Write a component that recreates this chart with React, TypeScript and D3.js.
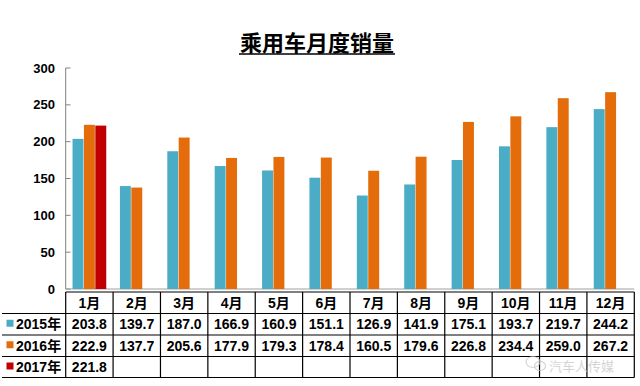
import React from "react";
import * as d3 from "d3";

const months = ["1月", "2月", "3月", "4月", "5月", "6月", "7月", "8月", "9月", "10月", "11月", "12月"];
const seriesNames = ["2015年", "2016年", "2017年"];
const sales2015 = [203.8, 139.7, 187.0, 166.9, 160.9, 151.1, 126.9, 141.9, 175.1, 193.7, 219.7, 244.2];
const sales2016 = [222.9, 137.7, 205.6, 177.9, 179.3, 178.4, 160.5, 179.6, 226.8, 234.4, 259.0, 267.2];
const sales2017 = [221.8, null, null, null, null, null, null, null, null, null, null, null];
const yTicks = [0, 50, 100, 150, 200, 250, 300];
const colors = ["#4BACC6", "#E46C0A", "#C00000"];

const W = 640;
const H = 386;
const FONT = "Arial, 'Liberation Sans', 'Noto Sans CJK SC', sans-serif";

export default function App() {
  const allSeries = [sales2015, sales2016, sales2017];

  //scales
  const x0 = d3.scaleBand<string>().domain(months).range([65.7, 634.3]).padding(0);
  const x1 = d3
    .scaleBand<string>()
    .domain(seriesNames)
    .range([0, x0.bandwidth()])
    .paddingInner(0.04)
    .paddingOuter(0.6);
  const y = d3.scaleLinear().domain([0, 300]).range([289, 68]);

  //table geometry
  const rowLines = [292, 313.5, 335, 356.5, 377.5];
  const tableLeft = 2;
  const tableRight = 634.3;
  const colEdges = months.map((m) => x0(m) as number).concat([tableRight]);
  const rowMid = (i: number) => (rowLines[i] + rowLines[i + 1]) / 2 + 5;

  const fmt = d3.format(".1f");

  return (
    <svg
      width={W}
      height={H}
      style={{ position: "absolute", left: 0, top: 0, background: "#fff" }}
      fontFamily={FONT}
    >
      {/* title */}
      <text
        x={317}
        y={51}
        textAnchor="middle"
        fontSize={22}
        fontWeight="bold"
        fontFamily="'Noto Sans CJK SC', sans-serif"
        fill="#000"
      >
        乘用车月度销量
      </text>
      <line x1={239} x2={395} y1={54} y2={54} stroke="#000" strokeWidth={1.5} />

      {/* y axis */}
      <line x1={65.7} x2={65.7} y1={y(300)} y2={y(0)} stroke="#808080" strokeWidth={1} />
      {yTicks.map((t) => (
        <g key={t}>
          <line x1={65.7} x2={70.5} y1={y(t)} y2={y(t)} stroke="#808080" />
          <text
            x={55}
            y={y(t) + 4.5}
            textAnchor="end"
            fontSize={13}
            fontWeight="bold"
            fill="#000"
          >
            {t}
          </text>
        </g>
      ))}
      <line x1={65.7} x2={tableRight} y1={y(0)} y2={y(0)} stroke="#a0a0a0" />

      {/* bars */}
      {months.map((m, i) => (
        <g key={m} transform={`translate(${x0(m)},0)`}>
          {allSeries.map((s, j) => {
            const v = s[i];
            if (v == null) return null;
            return (
              <rect
                key={j}
                x={x1(seriesNames[j])}
                y={y(v)}
                width={x1.bandwidth()}
                height={y(0) - y(v)}
                fill={colors[j]}
              />
            );
          })}
        </g>
      ))}

      {/* data table */}
      <g stroke="#000" strokeWidth={1.2}>
        <line x1={colEdges[0]} x2={tableRight} y1={rowLines[0]} y2={rowLines[0]} />
        {rowLines.slice(1).map((ly, k) => (
          <line key={k} x1={tableLeft} x2={tableRight} y1={ly} y2={ly} />
        ))}
        {colEdges.map((cx, k) => (
          <line key={k} x1={cx} x2={cx} y1={rowLines[0]} y2={rowLines[4]} />
        ))}
      </g>
      {months.map((m) => (
        <text
          key={m}
          x={(x0(m) as number) + x0.bandwidth() / 2}
          y={rowMid(0)}
          textAnchor="middle"
          fontSize={14}
          fontWeight="bold"
          fill="#000"
        >
          {m}
        </text>
      ))}
      {allSeries.map((s, j) => (
        <g key={j}>
          <rect x={6.5} y={rowMid(j + 1) - 9.5} width={7} height={7} fill={colors[j]} />
          <text x={16} y={rowMid(j + 1)} fontSize={14} fontWeight="bold" fill="#000">
            {seriesNames[j]}
          </text>
          {months.map((m, i) =>
            s[i] == null ? null : (
              <text
                key={m}
                x={(x0(m) as number) + x0.bandwidth() / 2}
                y={rowMid(j + 1)}
                textAnchor="middle"
                fontSize={14}
                fontWeight="bold"
                fill="#000"
              >
                {fmt(s[i] as number)}
              </text>
            )
          )}
        </g>
      ))}

      {/* watermark */}
      <g opacity={0.75}>
        <ellipse cx={533} cy={362} rx={7} ry={5.5} fill="none" stroke="#c8c8c8" strokeWidth={1.2} />
        <ellipse cx={540} cy={366} rx={5.5} ry={4.5} fill="none" stroke="#c8c8c8" strokeWidth={1.2} />
        <text
          x={549}
          y={371}
          fontSize={13}
          fill="#c8c8c8"
          fontFamily="'Noto Sans CJK SC', sans-serif"
        >
          汽车人传媒
        </text>
      </g>
    </svg>
  );
}
